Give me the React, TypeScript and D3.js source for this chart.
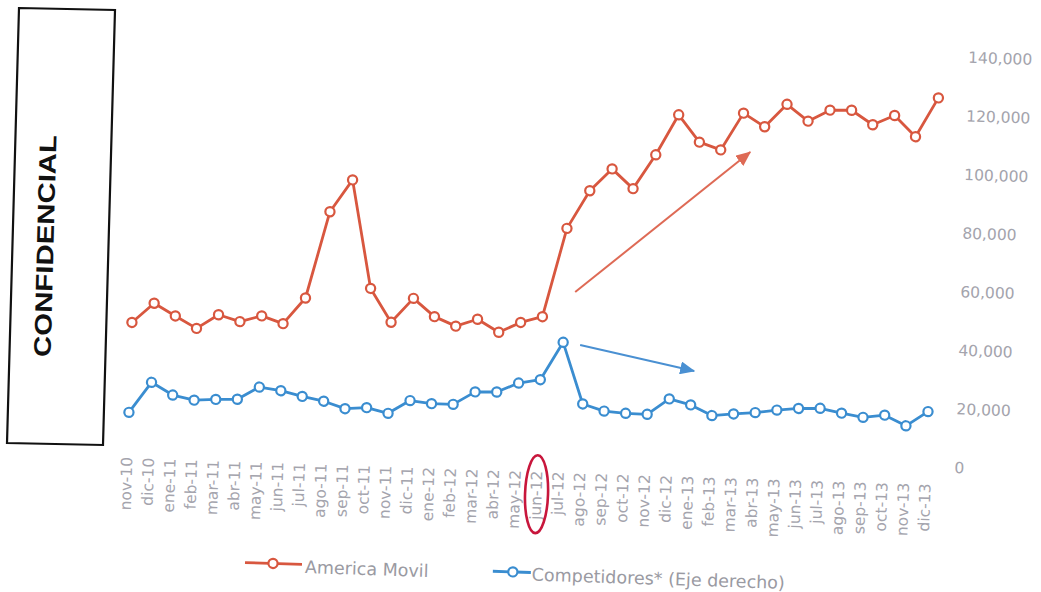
import React from "react";
import * as d3 from "d3";

// Monthly categories
const months = [
  "nov-10", "dic-10", "ene-11", "feb-11", "mar-11", "abr-11", "may-11", "jun-11",
  "jul-11", "ago-11", "sep-11", "oct-11", "nov-11", "dic-11", "ene-12", "feb-12",
  "mar-12", "abr-12", "may-12", "jun-12", "jul-12", "ago-12", "sep-12", "oct-12",
  "nov-12", "dic-12", "ene-13", "feb-13", "mar-13", "abr-13", "may-13", "jun-13",
  "jul-13", "ago-13", "sep-13", "oct-13", "nov-13", "dic-13",
];

// Series values
const americaMovil = [
  40300, 47100, 43000, 39000, 43900, 41800, 44000, 41600, 50600, 80300,
  91400, 54600, 43300, 51700, 45700, 42700, 45300, 41100, 44700, 46900,
  77300, 90400, 98100, 91600, 103400, 117300, 108200, 105800, 118600, 114200,
  122100, 116600, 120600, 120800, 116100, 119500, 112500, 126000,
];

const competidores = [
  9600, 20100, 16000, 14500, 15000, 15300, 19700, 18700, 17000, 15600,
  13300, 13900, 12200, 16800, 16000, 16000, 20500, 20700, 24000, 25400,
  38400, 17600, 15400, 14900, 14800, 20300, 18500, 15100, 15900, 16600,
  17700, 18500, 18800, 17400, 16200, 17200, 13800, 18900,
];

// Right-hand axis ticks
const yTicks = [0, 20000, 40000, 60000, 80000, 100000, 120000, 140000];

// Trend arrows: [start index, start value, end index, end value]
const redTrend = [20.48, 55700, 28.37, 105400];
const blueTrend = [20.79, 37700, 26.11, 30100];

// Highlighted month
const highlightMonth = "jun-12";

const RED = "#d8573f";
const BLUE = "#3a8dd0";
const GREY = "#a4a4ad";

export default function App() {
  const x = d3.scalePoint<string>().domain(months).range([133, 931.6]);
  const xi = d3.scaleLinear().domain([0, months.length - 1]).range([133, 931.6]);
  const y = d3.scaleLinear().domain([0, 140000]).range([453.4, 43.1]);
  const fmt = d3.format(",");

  const line = d3
    .line<number>()
    .x((_, i) => x(months[i]) as number)
    .y((d) => y(d));

  const series = [
    { name: "America Movil", values: americaMovil, color: RED },
    { name: "Competidores* (Eje derecho)", values: competidores, color: BLUE },
  ];

  const hx = x(highlightMonth) as number;

  return (
    <svg
      width={1041}
      height={592}
      style={{ position: "absolute", left: 0, top: 0, background: "#fff" }}
    >
      <defs>
        <marker
          id="headRed"
          markerUnits="userSpaceOnUse"
          markerWidth={15}
          markerHeight={13}
          refX={14}
          refY={6.5}
          orient="auto"
        >
          <path d="M0,0 L15,6.5 L0,13 z" fill="#de6a55" />
        </marker>
        <marker
          id="headBlue"
          markerUnits="userSpaceOnUse"
          markerWidth={15}
          markerHeight={13}
          refX={14}
          refY={6.5}
          orient="auto"
        >
          <path d="M0,0 L15,6.5 L0,13 z" fill="#4a90d2" />
        </marker>
      </defs>

      {/* stamp box */}
      <polygon
        points="19,8 115,10 103,445 7,443"
        fill="none"
        stroke="#111"
        strokeWidth={2.2}
      />
      <text
        transform="translate(45,246) rotate(-88.5)"
        textAnchor="middle"
        dominantBaseline="central"
        fontFamily="Liberation Sans, Arial, sans-serif"
        fontWeight="bold"
        fontSize={24}
        textLength={222}
        lengthAdjust="spacingAndGlyphs"
        fill="#111"
      >
        CONFIDENCIAL
      </text>

      <g transform="rotate(1.9, 520, 296)">
        {/* right axis labels */}
        {yTicks.map((t) => (
          <text
            key={t}
            x={960}
            y={y(t)}
            dominantBaseline="central"
            fontFamily="DejaVu Sans, sans-serif"
            fontSize={15.5}
            fill={GREY}
          >
            {fmt(t)}
          </text>
        ))}

        {/* category labels */}
        {months.map((m) => (
          <text
            key={m}
            transform={`translate(${x(m)},470) rotate(-90)`}
            textAnchor="end"
            dominantBaseline="central"
            fontFamily="DejaVu Sans, sans-serif"
            fontSize={15.5}
            fill={GREY}
          >
            {m}
          </text>
        ))}

        {/* highlight ring */}
        <ellipse
          cx={hx}
          cy={493.5}
          rx={11.5}
          ry={39}
          fill="none"
          stroke="#c8163c"
          strokeWidth={2.6}
        />

        {/* trend arrows */}
        <line
          x1={xi(redTrend[0])}
          y1={y(redTrend[1])}
          x2={xi(redTrend[2])}
          y2={y(redTrend[3])}
          stroke="#de6a55"
          strokeWidth={2}
          markerEnd="url(#headRed)"
        />
        <line
          x1={xi(blueTrend[0])}
          y1={y(blueTrend[1])}
          x2={xi(blueTrend[2])}
          y2={y(blueTrend[3])}
          stroke="#4a90d2"
          strokeWidth={2}
          markerEnd="url(#headBlue)"
        />

        {/* series */}
        {series.map((s) => (
          <g key={s.name}>
            <path
              d={line(s.values) || ""}
              fill="none"
              stroke={s.color}
              strokeWidth={2.8}
              strokeLinejoin="round"
            />
            {s.values.map((v, i) => (
              <circle
                key={i}
                cx={x(months[i])}
                cy={y(v)}
                r={4.6}
                fill="#fff"
                stroke={s.color}
                strokeWidth={2.2}
              />
            ))}
          </g>
        ))}

        {/* legend */}
        <g>
          <line x1={254} x2={311} y1={571.5} y2={571.5} stroke={RED} strokeWidth={2.8} />
          <circle cx={282} cy={571.5} r={4.6} fill="#fff" stroke={RED} strokeWidth={2.2} />
          <text
            x={314}
            y={580}
            fontFamily="DejaVu Sans, sans-serif"
            fontSize={17.5}
            fill="#9a9aa2"
          >
            America Movil
          </text>
          <line x1={502} x2={540} y1={572} y2={572} stroke={BLUE} strokeWidth={2.8} />
          <circle cx={522} cy={572} r={4.6} fill="#fff" stroke={BLUE} strokeWidth={2.2} />
          <text
            x={541}
            y={580}
            fontFamily="DejaVu Sans, sans-serif"
            fontSize={17.5}
            fill="#9a9aa2"
          >
            Competidores* (Eje derecho)
          </text>
        </g>
      </g>
    </svg>
  );
}
